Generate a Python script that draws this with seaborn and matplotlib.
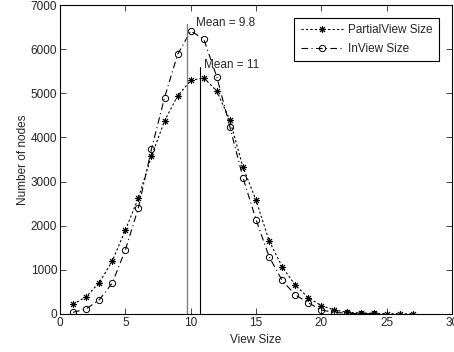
import pandas as pd
import seaborn as sns
import matplotlib.pyplot as plt

view_size_partial = list(range(1, 28))
partial_view = [220, 390, 710, 1200, 1900, 2630, 3575, 4375, 4940, 5290, 5350, 5050, 4390,
                3330, 2580, 1660, 1070, 655, 370, 190, 90, 38, 23, 15, 8, 5, 3]
view_size_in = list(range(1, 25))
in_view = [38, 115, 320, 700, 1450, 2405, 3735, 4900, 5880, 6410, 6230, 5370, 4240,
           3090, 2140, 1300, 760, 435, 255, 90, 38, 15, 8, 5]
mean_in, mean_in_top = 9.7, 6560
mean_partial, mean_partial_top = 10.75, 5600

sns.set_style('ticks')
plt.rcParams['font.family'] = ['Liberation Sans', 'DejaVu Sans']
plt.rcParams['xtick.direction'] = 'in'
plt.rcParams['ytick.direction'] = 'in'

fig = plt.figure(figsize=(4.54, 3.52), dpi=100)
ax = fig.add_axes([60 / 454, 38 / 352, 392 / 454, 309 / 352])

sns.lineplot(x=view_size_partial, y=partial_view, ax=ax, color='k', lw=0.8,
             linestyle=(0, (2, 2)), marker=(8, 2, 0), markersize=5, mew=0.7,
             mec='k', label='PartialView Size')
sns.lineplot(x=view_size_in, y=in_view, ax=ax, color='k', lw=0.8,
             linestyle=(0, (6, 3, 1, 3)), marker='o', markersize=4.5, mfc='none',
             mew=0.7, mec='k', label='InView Size')

ax.plot([mean_in, mean_in], [0, mean_in_top], color='#808080', lw=1)
ax.plot([mean_partial, mean_partial], [0, mean_partial_top], color='k', lw=0.8)
ax.text(mean_in + 0.7, mean_in_top + 30, 'Mean = 9.8', fontsize=8.5, va='center')
ax.text(mean_partial + 0.3, mean_partial_top + 30, 'Mean = 11', fontsize=8.5, va='center')

ax.set_xlim(0, 30)
ax.set_ylim(0, 7000)
ax.set_xticks(range(0, 31, 5))
ax.set_yticks(range(0, 7001, 1000))
ax.tick_params(labelsize=8.5, length=4, width=0.6, top=True, right=True, pad=2)
for s in ax.spines.values():
    s.set_visible(True)
    s.set_linewidth(0.8)
    s.set_color('k')
ax.set_xlabel('View Size', fontsize=8.5, labelpad=4)
ax.set_ylabel('Number of nodes', fontsize=8.5, labelpad=1)

leg = ax.legend(loc='upper right', fontsize=8.5, frameon=True, fancybox=False,
                edgecolor='k', framealpha=1, borderaxespad=1.1, handlelength=3.6,
                handletextpad=0.4, borderpad=0.55, labelspacing=0.55)
leg.get_frame().set_linewidth(0.8)

plt.savefig('out.png', dpi=100)
